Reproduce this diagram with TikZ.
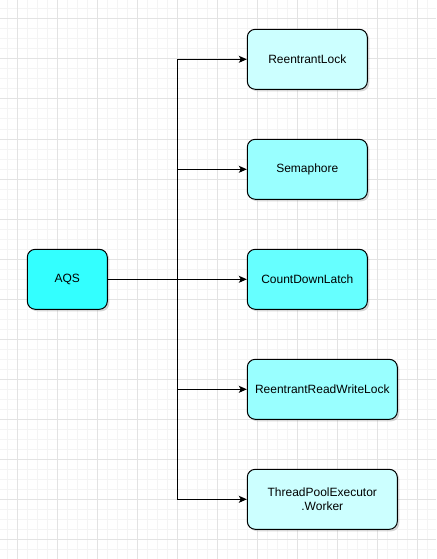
\documentclass[tikz,border=0pt]{standalone}
\usepackage{fontspec}
\setmainfont{Liberation Sans}
\usetikzlibrary{arrows.meta,shadows}

\definecolor{aqscyan}{HTML}{33FFFF}
\definecolor{cyanA}{HTML}{CCFFFF}
\definecolor{cyanB}{HTML}{99FFFF}
\definecolor{cyanC}{HTML}{66FFFF}
\definecolor{gridmajor}{HTML}{E3E3E3}
\definecolor{gridminor}{HTML}{F4F4F4}

\tikzset{
    box/.style={draw=black, line width=1pt, rounded corners=8pt,
        minimum height=60pt, align=center,
        font=\fontsize{12pt}{14pt}\selectfont,
        drop shadow={shadow xshift=2pt, shadow yshift=-2pt, opacity=0.3, fill=gray}},
    conn/.style={line width=1pt, -{Stealth[length=8pt, width=7pt, inset=2pt]}}
}

\begin{document}
\begin{tikzpicture}[x=1pt, y=-1pt]
    \useasboundingbox (0,0) rectangle (436,559);
    \fill[white] (0,0) rectangle (436,559);

    % Background grid - minor lines first, then major
    \foreach \gx in {7,17,...,427} \draw[gridminor, line width=1pt] (\gx,0) -- (\gx,559);
    \foreach \gy in {9,19,...,549} \draw[gridminor, line width=1pt] (0,\gy) -- (436,\gy);
    \foreach \gx in {17,57,...,417} \draw[gridmajor, line width=1pt] (\gx,0) -- (\gx,559);
    \foreach \gy in {19,59,...,539} \draw[gridmajor, line width=1pt] (0,\gy) -- (436,\gy);

    % Base class on the left
    \node[box, fill=aqscyan, minimum width=80pt] (aqs) at (67.3,279.3) {AQS};

    % Subclasses on the right
    \node[box, fill=cyanA, minimum width=120pt] (rl) at (307.3,59.3) {ReentrantLock};
    \node[box, fill=cyanB, minimum width=120pt] (sem) at (307.3,169.3) {Semaphore};
    \node[box, fill=cyanC, minimum width=120pt] (cdl) at (307.3,279.3) {CountDownLatch};
    \node[box, fill=cyanB, minimum width=150pt] (rrwl) at (322.3,389.3) {ReentrantReadWriteLock};
    \node[box, fill=cyanA, minimum width=150pt] (tpe) at (322.3,499.3) {ThreadPoolExecutor\\.Worker};

    % Connectors through the fork
    \coordinate (fork) at (177.3,279.3);
    \draw[conn] (aqs.east) -- (cdl.west);
    \foreach \n in {rl,sem,rrwl,tpe}
        \draw[conn] (fork) |- (\n.west);
\end{tikzpicture}
\end{document}
